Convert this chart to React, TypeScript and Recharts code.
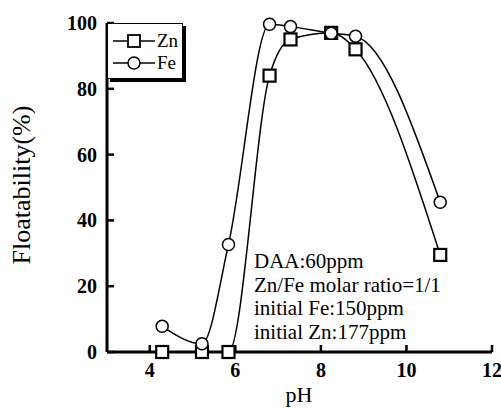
import { LineChart, Line, XAxis, YAxis } from 'recharts'

// pH values (shared by both series)
const ph = [4.29, 5.22, 5.84, 6.8, 7.29, 8.24, 8.81, 10.79]
const zn = [0, 0, 0, 84, 95, 97, 92, 29.5]
const fe = [7.8, 2.5, 32.7, 99.6, 98.9, 96.9, 96, 45.5]

const xTicks = [4, 6, 8, 10, 12]
const yTicks = [0, 20, 40, 60, 80, 100]
const notes = ['DAA:60ppm', 'Zn/Fe molar ratio=1/1', 'initial Fe:150ppm', 'initial Zn:177ppm']

const data = ph.map((p, i) => ({ ph: p, zn: zn[i], fe: fe[i] }))

const FONT = '"Liberation Serif", "Times New Roman", serif'
const tickText = { fontFamily: FONT, fontWeight: 700, fontSize: 20, fill: '#000' }

const BottomTick = ({ x, y, payload }: any) => (
  <g>
    <line x1={x} x2={x} y1={y} y2={y - 7} stroke="#000" strokeWidth={2.5} />
    <text x={x} y={y + 25} textAnchor="middle" style={tickText}>
      {payload.value}
    </text>
  </g>
)

const TopTick = ({ x, y }: any) => (
  <line x1={x} x2={x} y1={y} y2={y + 7} stroke="#000" strokeWidth={2.5} />
)

const LeftTick = ({ x, y, payload }: any) => (
  <g>
    <line x1={x} x2={x + 7} y1={y} y2={y} stroke="#000" strokeWidth={2.5} />
    <text x={x - 10} y={y} dy="0.35em" textAnchor="end" style={tickText}>
      {payload.value}
    </text>
  </g>
)

const RightTick = ({ x, y }: any) => (
  <line x1={x} x2={x - 7} y1={y} y2={y} stroke="#000" strokeWidth={2.5} />
)

const SquareDot = ({ cx, cy }: any) => (
  <rect x={cx - 6} y={cy - 6} width={12} height={12} fill="#fff" stroke="#000" strokeWidth={2.2} />
)

const CircleDot = ({ cx, cy }: any) => (
  <circle cx={cx} cy={cy} r={6} fill="#fff" stroke="#000" strokeWidth={1.5} />
)

function LegendIcon({ kind }: { kind: 'square' | 'circle' }) {
  return (
    <svg width={42} height={14} style={{ display: 'block' }}>
      <line x1={0} x2={42} y1={7} y2={7} stroke="#000" strokeWidth={1.5} />
      {kind === 'square' ? (
        <rect x={15} y={1} width={12} height={12} fill="#fff" stroke="#000" strokeWidth={1.8} />
      ) : (
        <circle cx={21} cy={7} r={6} fill="#fff" stroke="#000" strokeWidth={1.5} />
      )}
    </svg>
  )
}

export default function App() {
  return (
    <div style={{ position: 'absolute', left: 0, top: 0, width: 501, height: 408, background: '#fff', fontFamily: FONT, color: '#000' }}>
      <LineChart width={501} height={408} data={data} margin={{ top: 23, right: 9, bottom: 0, left: 0 }}>
        <XAxis
          dataKey="ph"
          type="number"
          domain={[3, 12]}
          ticks={xTicks}
          xAxisId="b"
          height={56}
          tickSize={0}
          tickMargin={0}
          tickLine={false}
          tick={<BottomTick />}
          axisLine={{ stroke: '#000', strokeWidth: 3 }}
          interval={0}
        />
        <XAxis
          dataKey="ph"
          type="number"
          domain={[3, 12]}
          ticks={xTicks}
          xAxisId="t"
          orientation="top"
          height={0}
          tickSize={0}
          tickMargin={0}
          tickLine={false}
          tick={<TopTick />}
          axisLine={{ stroke: '#000', strokeWidth: 3 }}
          interval={0}
        />
        <YAxis
          type="number"
          domain={[0, 100]}
          ticks={yTicks}
          yAxisId="l"
          width={107}
          tickSize={0}
          tickMargin={0}
          tickLine={false}
          tick={<LeftTick />}
          axisLine={{ stroke: '#000', strokeWidth: 3 }}
          interval={0}
        />
        <YAxis
          type="number"
          domain={[0, 100]}
          ticks={yTicks}
          yAxisId="r"
          orientation="right"
          width={0}
          tickSize={0}
          tickMargin={0}
          tickLine={false}
          tick={<RightTick />}
          axisLine={{ stroke: '#000', strokeWidth: 3 }}
          interval={0}
        />
        <Line
          xAxisId="b"
          yAxisId="l"
          type="monotone"
          dataKey="zn"
          stroke="#000"
          strokeWidth={1.5}
          dot={<SquareDot />}
          activeDot={false}
          isAnimationActive={false}
        />
        <Line
          xAxisId="b"
          yAxisId="l"
          type="monotone"
          dataKey="fe"
          stroke="#000"
          strokeWidth={1.5}
          dot={<CircleDot />}
          activeDot={false}
          isAnimationActive={false}
        />
      </LineChart>

      {/* legend box */}
      <div
        style={{
          position: 'absolute',
          left: 107,
          top: 23,
          width: 74,
          height: 54,
          border: '1px solid #000',
          boxShadow: '3px 3px 0 #000',
          background: '#fff',
          boxSizing: 'content-box',
        }}
      >
        {[
          { kind: 'square' as const, name: 'Zn', top: 10 },
          { kind: 'circle' as const, name: 'Fe', top: 32 },
        ].map((it) => (
          <div key={it.name} style={{ position: 'absolute', left: 5, top: it.top, display: 'flex', alignItems: 'center' }}>
            <LegendIcon kind={it.kind} />
            <span style={{ fontFamily: FONT, fontSize: 19, lineHeight: '14px', marginLeft: 2 }}>{it.name}</span>
          </div>
        ))}
      </div>

      {/* annotation */}
      <div style={{ position: 'absolute', left: 254, top: 250, fontFamily: FONT, fontSize: 21, lineHeight: '23.7px', whiteSpace: 'nowrap' }}>
        {notes.map((n) => (
          <div key={n}>{n}</div>
        ))}
      </div>

      {/* axis titles */}
      <div
        style={{
          position: 'absolute',
          left: 22,
          top: 185,
          transform: 'translate(-50%, -50%) rotate(-90deg)',
          fontFamily: FONT,
          fontSize: 26,
          lineHeight: '26px',
          whiteSpace: 'nowrap',
        }}
      >
        Floatability(%)
      </div>
      <div
        style={{
          position: 'absolute',
          left: 299,
          top: 384,
          transform: 'translateX(-50%)',
          fontFamily: FONT,
          fontSize: 22,
          lineHeight: '22px',
        }}
      >
        pH
      </div>
    </div>
  )
}
